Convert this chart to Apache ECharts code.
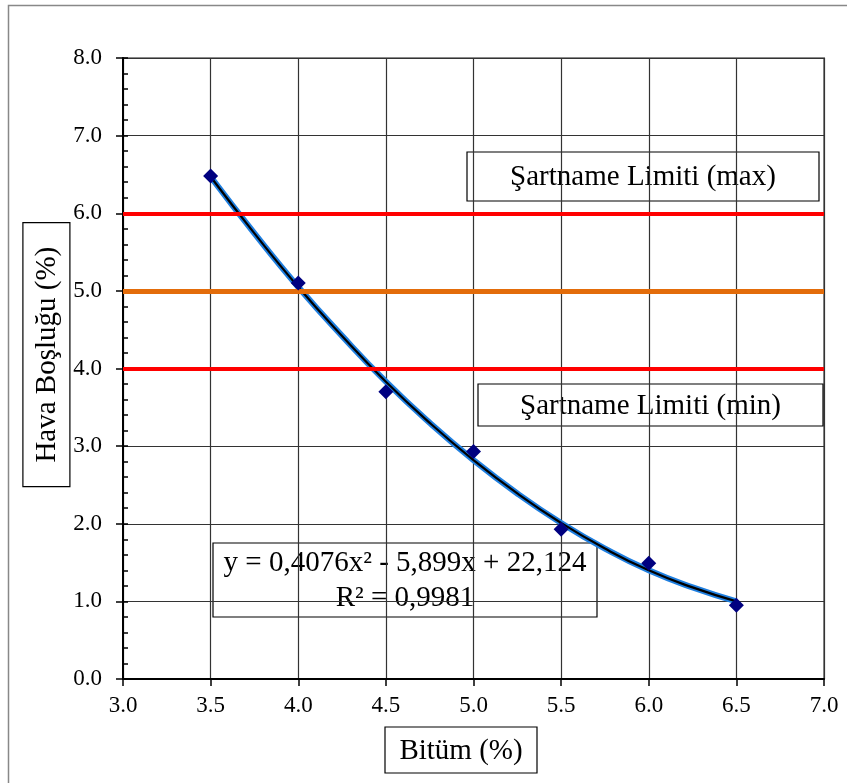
<!DOCTYPE html>
<html>
<head>
<meta charset="utf-8">
<script src="https://cdn.jsdelivr.net/npm/echarts@6/dist/echarts.min.js"></script>
<style>
  html, body { margin: 0; padding: 0; background: #fff; }
  #chart { width: 847px; height: 783px; }
</style>
</head>
<body>
<div id="chart"></div>
<script>
// ölçülen noktalar (Bitüm %, Hava Boşluğu %)
const bitumen = [3.5, 4.0, 4.5, 5.0, 5.5, 6.0, 6.5];
const airVoids = [6.48, 5.1, 3.7, 2.93, 1.93, 1.49, 0.95];

// trend çizgisi
const trendX = [3.5, 3.75, 4.0, 4.25, 4.5, 4.75, 5.0, 5.25, 5.5, 5.75, 6.0, 6.25, 6.5];
const trendY = [6.47, 5.74, 5.05, 4.42, 3.83, 3.30, 2.82, 2.39, 2.01, 1.68, 1.40, 1.18, 1.00];

// şartname limitleri
const limitMax = 6.0;
const target = 5.0;
const limitMin = 4.0;

const xTicks = [3.0, 7.0, 0.5];   // min, max, aralık
const yTicks = [0.0, 8.0, 1.0];

const FONT = "'Liberation Serif', 'Times New Roman', serif";

const myChart = echarts.init(document.getElementById('chart'));

const points = bitumen.map((x, i) => [x, airVoids[i]]);
const trend = trendX.map((x, i) => [x, trendY[i]]);

// kutulu yazı
function box(cx, cy, w, h, text, size, rotate) {
  return {
    type: 'group',
    x: cx, y: cy,
    rotation: rotate ? Math.PI / 2 : 0,
    children: [
      {
        type: 'rect',
        shape: { x: -w / 2, y: -h / 2, width: w, height: h },
        style: { fill: '#fff', stroke: '#000', lineWidth: 1.2 }
      },
      {
        type: 'text',
        style: {
          text: text, x: 0, y: 1,
          font: size + 'px ' + FONT,
          fill: '#000',
          align: 'center', verticalAlign: 'middle',
          lineHeight: 35
        }
      }
    ]
  };
}

const option = {
  animation: false,
  backgroundColor: '#fff',
  grid: {
    left: 123, right: 23, top: 58, bottom: 104,
    show: true, borderColor: '#8a8a8a', borderWidth: 2
  },
  xAxis: {
    type: 'value',
    min: xTicks[0], max: xTicks[1], interval: xTicks[2],
    axisLine: { show: true, onZero: false, lineStyle: { color: '#000', width: 2 } },
    axisTick: { show: true, length: 7, lineStyle: { color: '#000', width: 1.5 } },
    axisLabel: {
      margin: 15, color: '#000', fontFamily: FONT, fontSize: 23,
      formatter: v => v.toFixed(1)
    },
    splitLine: { show: true, lineStyle: { color: '#333', width: 1.2 } }
  },
  yAxis: [
    {
      type: 'value',
      min: yTicks[0], max: yTicks[1], interval: yTicks[2],
      axisLine: { show: true, onZero: false, lineStyle: { color: '#000', width: 2 } },
      axisTick: { show: true, length: 7, lineStyle: { color: '#000', width: 1.5 } },
      axisLabel: {
        margin: 21, color: '#000', fontFamily: FONT, fontSize: 23,
        formatter: v => v.toFixed(1)
      },
      splitLine: { show: true, lineStyle: { color: '#333', width: 1.2 } }
    },
    {
      // küçük içe bakan çentikler
      type: 'value', position: 'left',
      min: yTicks[0], max: yTicks[1], interval: 0.2,
      axisLine: { show: false },
      axisTick: { show: true, inside: true, length: 5, lineStyle: { color: '#000', width: 1.5 } },
      axisLabel: { show: false },
      splitLine: { show: false }
    }
  ],
  series: [
    {
      type: 'line', data: trend, smooth: true, symbol: 'none', z: 2,
      lineStyle: { color: '#1f7fe0', width: 6 }
    },
    {
      type: 'line', data: trend, smooth: true, symbol: 'none', z: 3,
      lineStyle: { color: '#000', width: 2.2 }
    },
    {
      type: 'line', data: [], z: 4,
      markLine: {
        silent: true, symbol: 'none', label: { show: false },
        data: [
          { yAxis: limitMax, lineStyle: { color: '#ff0000', width: 4, type: 'solid' } },
          { yAxis: target, lineStyle: { color: '#e36c0a', width: 5, type: 'solid' } },
          { yAxis: limitMin, lineStyle: { color: '#ff0000', width: 4, type: 'solid' } }
        ]
      }
    },
    {
      type: 'scatter', data: points, z: 5,
      symbol: 'diamond', symbolSize: 15,
      itemStyle: { color: '#000080', opacity: 1 }
    }
  ],
  graphic: [
    {
      type: 'rect', z: 0,
      shape: { x: 8.5, y: 5.5, width: 900, height: 900 },
      style: { fill: 'none', stroke: '#888', lineWidth: 1.5 }
    },
    box(643, 176.5, 352, 49, 'Şartname Limiti (max)', 29),
    box(650.5, 405, 345, 42, 'Şartname Limiti (min)', 29),
    box(405, 580, 384, 74, 'y = 0,4076x² - 5,899x + 22,124\nR² = 0,9981', 29),
    box(461, 750, 152, 46, 'Bitüm (%)', 29),
    box(46.4, 354.7, 264, 47, 'Hava Boşluğu (%)', 29, true)
  ]
};

option && myChart.setOption(option);
</script>
</body>
</html>
